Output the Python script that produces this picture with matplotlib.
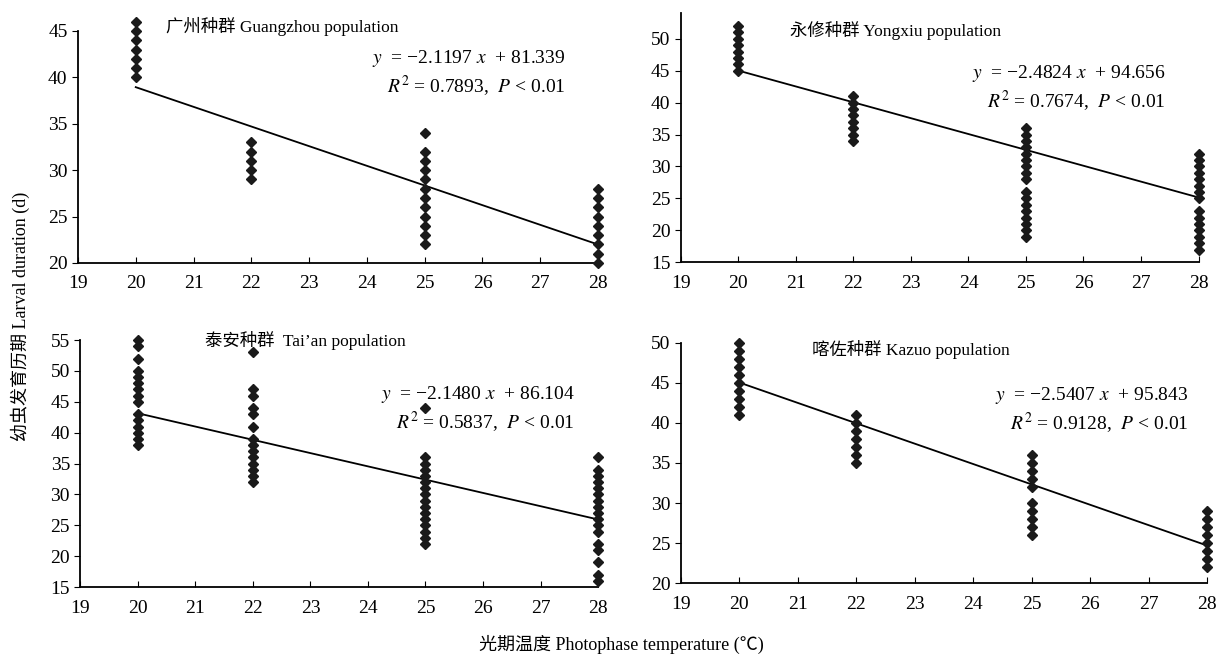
import matplotlib.pyplot as plt

plt.rcParams['font.family'] = ['Liberation Serif', 'Noto Sans CJK SC']
plt.rcParams['mathtext.fontset'] = 'stix'
plt.rcParams['axes.unicode_minus'] = True

# ====================== data ======================

temps = [20, 22, 25, 28]

gz_20 = [40, 41, 42, 43, 44, 45, 46]
gz_22 = [29, 30, 31, 32, 33]
gz_25 = [22, 23, 24, 25, 26, 27, 28, 29, 30, 31, 32, 34]
gz_28 = [20, 21, 22, 23, 24, 25, 26, 27, 28]

yx_20 = [45, 46, 47, 48, 49, 50, 51, 52]
yx_22 = [34, 35, 36, 37, 38, 39, 40, 41]
yx_25 = [19, 20, 21, 22, 23, 24, 25, 26, 28, 29, 30, 31, 32, 33, 34, 35, 36]
yx_28 = [17, 18, 19, 20, 21, 22, 23, 25, 26, 27, 28, 29, 30, 31, 32]

ta_20 = [38, 39, 40, 41, 42, 43, 45, 46, 47, 48, 49, 50, 52, 54, 55]
ta_22 = [32, 33, 34, 35, 36, 37, 38, 39, 41, 43, 44, 46, 47, 53]
ta_25 = [22, 23, 24, 25, 26, 27, 28, 29, 30, 31, 32, 33, 34, 35, 36, 44]
ta_28 = [16, 17, 19, 21, 22, 24, 25, 26, 27, 28, 29, 30, 31, 32, 33, 34, 36]

kz_20 = [41, 42, 43, 44, 45, 46, 47, 48, 49, 50]
kz_22 = [35, 36, 37, 38, 39, 40, 41]
kz_25 = [26, 27, 28, 29, 30, 32, 33, 34, 35, 36]
kz_28 = [22, 23, 24, 25, 26, 27, 28, 29]

slopes = [-2.1197, -2.4824, -2.1480, -2.5407]
intercepts = [81.339, 94.656, 86.104, 95.843]
r2_vals = ['0.7893', '0.7674', '0.5837', '0.9128']
titles = ['广州种群 Guangzhou population', '永修种群 Yongxiu population',
          '泰安种群  Tai\u2019an population', '喀佐种群 Kazuo population']

groups = [[gz_20, gz_22, gz_25, gz_28], [yx_20, yx_22, yx_25, yx_28],
          [ta_20, ta_22, ta_25, ta_28], [kz_20, kz_22, kz_25, kz_28]]

ylims = [(20, 45), (15, 54), (15, 55), (20, 50)]
yticks = [range(20, 46, 5), range(15, 51, 5), range(15, 56, 5), range(20, 51, 5)]

# axes rects: left, bottom, width, height
rects = [[0.064, 0.601, 0.427, 0.352],
         [0.559, 0.602, 0.425, 0.378],
         [0.066, 0.109, 0.425, 0.375],
         [0.559, 0.115, 0.432, 0.365]]
title_pos = [(0.17, 1.02), (0.21, 0.93), (0.24, 1.0), (0.25, 0.97)]
eq_pos = [(0.937, 0.82), (0.937, 0.70), (0.955, 0.72), (0.965, 0.72)]

fig = plt.figure(figsize=(12.18, 6.59), dpi=100)

for i in range(4):
    ax = fig.add_axes(rects[i])
    for t, vals in zip(temps, groups[i]):
        ax.plot([t] * len(vals), vals, linestyle='none', marker='D',
                markersize=4.6, color='#1a1a1a', clip_on=False, zorder=3)
    xs = [temps[0], temps[-1]]
    ax.plot(xs, [slopes[i] * x + intercepts[i] for x in xs], color='black', lw=1.3)

    ax.set_xlim(19, 28)
    ax.set_ylim(*ylims[i])
    ax.set_xticks(range(19, 29))
    ax.set_yticks(list(yticks[i]))
    ax.spines['top'].set_visible(False)
    ax.spines['right'].set_visible(False)
    ax.spines['left'].set_linewidth(1.3)
    ax.spines['bottom'].set_linewidth(1.3)
    ax.tick_params(axis='x', direction='in', length=4, labelsize=14, pad=9)
    ax.tick_params(axis='y', direction='out', length=4, labelsize=14)

    ax.text(title_pos[i][0], title_pos[i][1], titles[i], transform=ax.transAxes,
            fontsize=12.5, ha='left', va='center')
    eq = r'$y$  = %s $x$  + %.3f' % (('\u2212%.4f' % abs(slopes[i])), intercepts[i])
    stat = r'$R$$^{\,2}$ = %s,  $P$ < 0.01' % r2_vals[i]
    ax.text(eq_pos[i][0], eq_pos[i][1], eq + '\n' + stat, transform=ax.transAxes,
            fontsize=14, ha='right', va='center', linespacing=1.2)

fig.text(0.017, 0.52, '幼虫发育历期 Larval duration (d)', rotation=90,
         fontsize=13, ha='center', va='center')
fig.text(0.51, 0.022, '光期温度 Photophase temperature (℃)',
         fontsize=13, ha='center', va='center')

plt.savefig('out.png', dpi=100)
